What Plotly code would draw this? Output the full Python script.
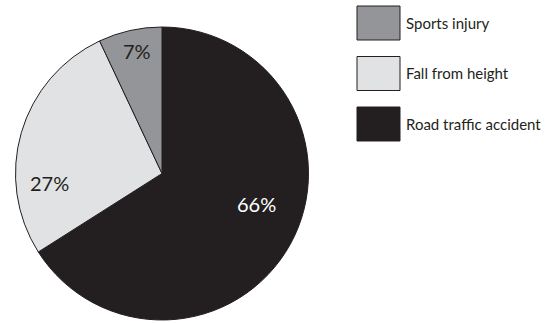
import math
import plotly.graph_objects as go

categories = ["Road traffic accident", "Fall from height", "Sports injury"]
values = [66, 27, 7]
colors = ["#231f20", "#e1e2e4", "#939598"]
text_colors = ["#ffffff", "#231f20", "#231f20"]
legend_order = ["Sports injury", "Fall from height", "Road traffic accident"]

# label placement style: (angle nudge in degrees, radial fraction)
label_style = [(-11, 0.68), (-21, 0.77), (1, 0.855)]

W, H = 553, 323
px0, px1, py0, py1 = 15, 309, 27, 320   # pie box in pixels (top-down)
dom_x = [px0 / W, px1 / W]
dom_y = [1 - py1 / H, 1 - py0 / H]

fig = go.Figure()
fig.add_trace(go.Pie(
    labels=categories,
    values=values,
    sort=False,
    direction="clockwise",
    rotation=0,
    marker=dict(colors=colors, line=dict(color="#231f20", width=1)),
    textinfo="none",
    domain=dict(x=dom_x, y=dom_y),
    showlegend=False,
    hoverinfo="label+percent",
))

# percentage labels positioned from the slice angles
cx = (px0 + px1) / 2
cy = (py0 + py1) / 2
R = (py1 - py0) / 2
total = sum(values)
cum = 0
for v, tc, (nudge, frac) in zip(values, text_colors, label_style):
    mid = (cum + v / 2) / total * 360 + nudge
    cum += v
    x = cx + frac * R * math.sin(math.radians(mid))
    y = cy - frac * R * math.cos(math.radians(mid))
    fig.add_annotation(xref="paper", yref="paper", x=x / W, y=1 - y / H,
                       text=f"{round(v / total * 100)}%", showarrow=False,
                       xanchor="center", yanchor="middle",
                       font=dict(family="Lato", size=20, color=tc))

# custom legend (large swatches)
for i, name in enumerate(legend_order):
    idx = categories.index(name)
    y0 = 6 + i * 50.5
    fig.add_shape(type="rect", xref="paper", yref="paper",
                  x0=357/W, x1=400/W, y0=1-(y0+34)/H, y1=1-y0/H,
                  fillcolor=colors[idx], line=dict(color="#231f20", width=1))
    fig.add_annotation(xref="paper", yref="paper", x=404/W, y=1-(y0+17)/H,
                       text=name, showarrow=False, xanchor="left", yanchor="middle",
                       font=dict(family="Lato", size=15, color="#231f20"))

fig.update_layout(
    width=553, height=323,
    margin=dict(l=0, r=0, t=0, b=0),
    paper_bgcolor="white", plot_bgcolor="white",
)
fig.write_html("out.html")
